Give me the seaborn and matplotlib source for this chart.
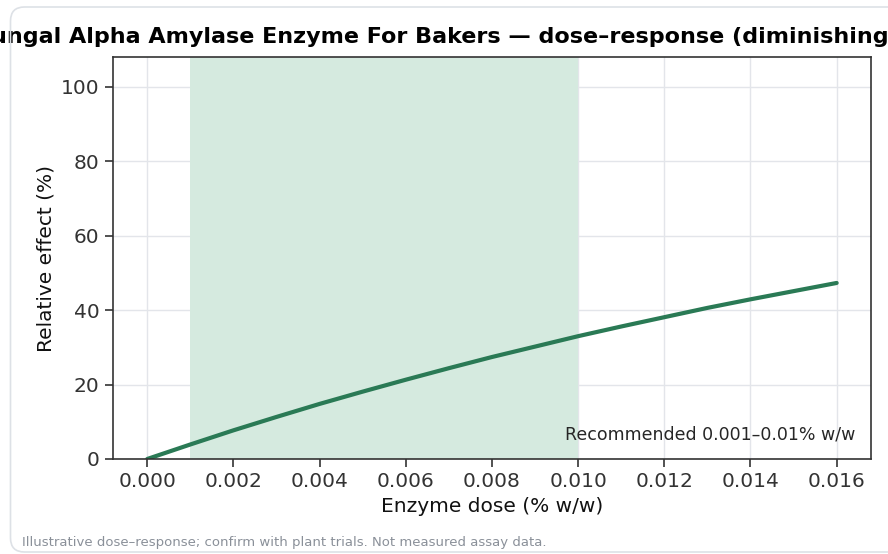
import matplotlib
matplotlib.use("Agg")
import matplotlib.pyplot as plt
from matplotlib.path import Path
from matplotlib.patches import PathPatch, Patch
from matplotlib.transforms import IdentityTransform
import pandas as pd
import seaborn as sns

# values
dose = [0.000, 0.001, 0.002, 0.003, 0.004, 0.005, 0.006, 0.007, 0.008,
        0.009, 0.010, 0.011, 0.012, 0.013, 0.014, 0.015, 0.016]
effect = [0.0, 3.9, 7.7, 11.3, 14.8, 18.1, 21.3, 24.4, 27.4,
          30.2, 33.0, 35.6, 38.1, 40.6, 42.9, 45.1, 47.3]
rec_low, rec_high = 0.001, 0.010
x_ticks = [0.000, 0.002, 0.004, 0.006, 0.008, 0.010, 0.012, 0.014, 0.016]
y_ticks = [0, 20, 40, 60, 80, 100]

df = pd.DataFrame({"dose": dose, "effect": effect})

sns.set_theme(style="whitegrid")
plt.rcParams["font.family"] = ["DejaVu Sans"]

fig, ax = plt.subplots(figsize=(8.88, 5.54), dpi=100)
fig.subplots_adjust(left=0.127, right=0.981, top=0.897, bottom=0.1715)

# card outline (left side only, the right runs off the canvas), in pixels
x0, top, bot, r = 10.5, 547, 2, 14
verts = [(895, top), (x0 + r, top), (x0, top), (x0, top - r),
         (x0, bot + r), (x0, bot), (x0 + r, bot), (895, bot)]
codes = [Path.MOVETO, Path.LINETO, Path.CURVE3, Path.CURVE3,
         Path.LINETO, Path.CURVE3, Path.CURVE3, Path.LINETO]
card = PathPatch(Path(verts, codes), transform=IdentityTransform(),
                 fill=False, edgecolor="#dde1e6", linewidth=1.2)
fig.patches.append(card)

span_color = "#d5eadf"
ax.axvspan(rec_low, rec_high, facecolor=span_color, edgecolor="none")
sns.lineplot(data=df, x="dose", y="effect", ax=ax, color="#2a7a55",
             linewidth=3)

ax.set_xlim(-0.0008, 0.0168)
ax.set_ylim(0, 108)
ax.set_xticks(x_ticks)
ax.set_xticklabels([f"{t:.3f}" for t in x_ticks])
ax.set_yticks(y_ticks)

ax.grid(color="#e3e5ea", linewidth=1)
for s in ax.spines.values():
    s.set_color("#333333")
    s.set_linewidth(1.2)
ax.tick_params(axis="both", labelsize=14.5, colors="#333333", length=6,
               width=1.2, direction="out", bottom=True, left=True)

ax.set_xlabel("Enzyme dose (% w/w)", fontsize=14.5, color="#111111")
ax.set_ylabel("Relative effect (%)", fontsize=14.5, color="#111111")
ax.set_title("Fungal Alpha Amylase Enzyme For Bakers — dose–response (diminishing returns)",
             fontsize=16, fontweight="bold", color="black", pad=10, x=0.4947)

ax.legend(handles=[Patch(facecolor=span_color, edgecolor="none",
                         label="Recommended 0.001–0.01% w/w")],
          loc="lower right", frameon=False, fontsize=12.5)

fig.text(22 / 888, 1 - 546 / 554,
         "Illustrative dose–response; confirm with plant trials. Not measured assay data.",
         fontsize=9.5, color="#8a9099")

fig.savefig("out.png", dpi=100)
